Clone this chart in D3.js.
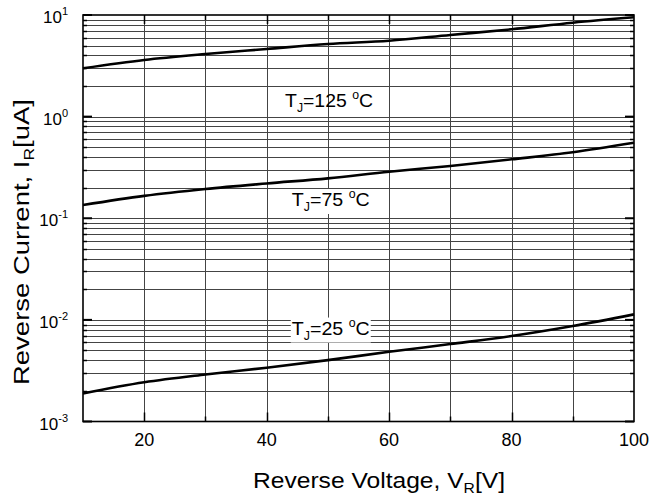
<!DOCTYPE html>
<html>
<head>
<meta charset="utf-8">
<script src="https://cdn.jsdelivr.net/npm/d3@7"></script>
<style>
  body { margin: 0; background: #fff; }
  svg { display: block; font-family: "Liberation Sans", Arial, sans-serif; }
</style>
</head>
<body>
<svg id="chart" width="663" height="503"></svg>
<script>
// reverse voltage, V
const voltage = [10, 20, 30, 40, 50, 60, 70, 80, 90, 100];
// reverse current, uA, one array per junction temperature
const current125 = [2.99, 3.61, 4.13, 4.63, 5.18, 5.58, 6.36, 7.23, 8.40, 9.49];
const current75 = [0.135, 0.166, 0.194, 0.220, 0.247, 0.287, 0.327, 0.380, 0.446, 0.553];
const current25 = [0.00189, 0.00243, 0.00290, 0.00338, 0.00402, 0.00485, 0.00578, 0.00693, 0.00869, 0.01133];

const seriesLabels = ['125', '75', '25'];
// where each label sits, in data units (left edge, baseline)
const labelVolt = [43, 44.1, 44.1];
const labelCurr = [1.24, 0.132, 0.00717];

const xTickLabels = [20, 40, 60, 80, 100];
const yTickExponents = [1, 0, -1, -2, -3];

const svg = d3.select('#chart');
const margin = { top: 15, right: 29, bottom: 81.5, left: 83 };
const W = 663, H = 503;

const x = d3.scaleLinear().domain([10, 100]).range([margin.left, W - margin.right]);
const y = d3.scaleLog().domain([1e-3, 1e1]).range([H - margin.bottom, margin.top]);

const x0 = x.range()[0], x1 = x.range()[1];
const y0 = y.range()[0], y1 = y.range()[1];

// grid
const grid = svg.append('g').attr('stroke', '#444').attr('stroke-width', 1);
const xGrid = d3.range(20, 100, 10);
grid.selectAll('line.gx').data(xGrid).join('line')
  .attr('x1', d => Math.round(x(d)) + 0.5).attr('x2', d => Math.round(x(d)) + 0.5)
  .attr('y1', y1).attr('y2', y0);

const yGrid = y.ticks().filter(d => d > 1e-3 && d < 1e1);
grid.selectAll('line.gy').data(yGrid).join('line')
  .attr('x1', x0).attr('x2', x1)
  .attr('y1', d => Math.round(y(d)) + 0.5).attr('y2', d => Math.round(y(d)) + 0.5);

// ticks, inward on all four sides
const ticks = svg.append('g').attr('stroke', '#000');
const yMajor = yTickExponents.map(e => Math.pow(10, e));
const yMinor = yGrid.filter(d => !yMajor.some(m => Math.abs(m - d) / d < 1e-6));
[[x0, 1], [x1, -1]].forEach(([px, dir]) => {
  ticks.append('g').selectAll('line').data(yMajor).join('line')
    .attr('stroke-width', 2)
    .attr('x1', px).attr('x2', px + dir * 9)
    .attr('y1', d => y(d)).attr('y2', d => y(d));
  ticks.append('g').selectAll('line').data(yMinor).join('line')
    .attr('stroke-width', 1.5)
    .attr('x1', px).attr('x2', px + dir * 4)
    .attr('y1', d => Math.round(y(d)) + 0.5).attr('y2', d => Math.round(y(d)) + 0.5);
});
[[y0, -1], [y1, 1]].forEach(([py, dir]) => {
  ticks.append('g').selectAll('line').data([20, 40, 60, 80]).join('line')
    .attr('stroke-width', 1.5)
    .attr('x1', d => Math.round(x(d)) + 0.5).attr('x2', d => Math.round(x(d)) + 0.5)
    .attr('y1', py).attr('y2', py + dir * 9);
  ticks.append('g').selectAll('line').data([30, 50, 70, 90]).join('line')
    .attr('stroke-width', 1.5)
    .attr('x1', d => Math.round(x(d)) + 0.5).attr('x2', d => Math.round(x(d)) + 0.5)
    .attr('y1', py).attr('y2', py + dir * 5);
});

// frame
svg.append('rect')
  .attr('x', x0).attr('y', y1)
  .attr('width', x1 - x0).attr('height', y0 - y1)
  .attr('fill', 'none').attr('stroke', '#000').attr('stroke-width', 1.6);

// curves
const line = d3.line()
  .x(d => x(d[0])).y(d => y(d[1]))
  .curve(d3.curveMonotoneX);
[current125, current75, current25].forEach(vals => {
  svg.append('path')
    .datum(voltage.map((v, i) => [v, vals[i]]))
    .attr('d', line)
    .attr('fill', 'none').attr('stroke', '#000').attr('stroke-width', 2.6);
});

// curve labels
seriesLabels.forEach((t, i) => {
  const g = svg.append('g');
  const txt = g.append('text')
    .attr('x', x(labelVolt[i])).attr('y', y(labelCurr[i]))
    .attr('font-size', 19).attr('fill', '#000')
    .attr('textLength', i === 0 ? 88 : 78).attr('lengthAdjust', 'spacingAndGlyphs');
  txt.append('tspan').text('T');
  txt.append('tspan').attr('font-size', 12).attr('dy', 5).text('J');
  txt.append('tspan').attr('dy', -5).text('=' + t + ' ');
  txt.append('tspan').attr('font-size', 12).attr('dy', -8).text('o');
  txt.append('tspan').attr('dy', 8).text('C');
  if (i > 0) {
    const b = txt.node().getBBox();
    g.insert('rect', 'text')
      .attr('x', b.x - 1).attr('y', b.y + 2)
      .attr('width', b.width + 2).attr('height', b.height - 2)
      .attr('fill', '#fff');
  }
});

// y tick labels
yTickExponents.forEach(e => {
  const t = svg.append('text')
    .attr('x', 68).attr('y', y(Math.pow(10, e)) + 8)
    .attr('text-anchor', 'end')
    .attr('font-size', 17).attr('fill', '#000');
  t.append('tspan').text('10');
  t.append('tspan').attr('font-size', 11).attr('dy', -8).text(e);
});

// x tick labels
svg.append('g').selectAll('text').data(xTickLabels).join('text')
  .attr('x', d => x(d)).attr('y', y0 + 24)
  .attr('text-anchor', 'middle')
  .attr('font-size', 18).attr('fill', '#000')
  .text(d => d);

// axis titles
const xt = svg.append('text')
  .attr('x', 253).attr('y', 488)
  .attr('font-size', 22).attr('fill', '#000')
  .attr('textLength', 252).attr('lengthAdjust', 'spacingAndGlyphs');
xt.append('tspan').text('Reverse Voltage, V');
xt.append('tspan').attr('font-size', 14).attr('dy', 5).text('R');
xt.append('tspan').attr('dy', -5).text('[V]');

const yt = svg.append('text')
  .attr('transform', 'translate(29,385) rotate(-90)')
  .attr('font-size', 22).attr('fill', '#000')
  .attr('textLength', 286).attr('lengthAdjust', 'spacingAndGlyphs');
yt.append('tspan').text('Reverse Current, I');
yt.append('tspan').attr('font-size', 14).attr('dy', 5).text('R');
yt.append('tspan').attr('dy', -5).text('[uA]');
</script>
</body>
</html>
